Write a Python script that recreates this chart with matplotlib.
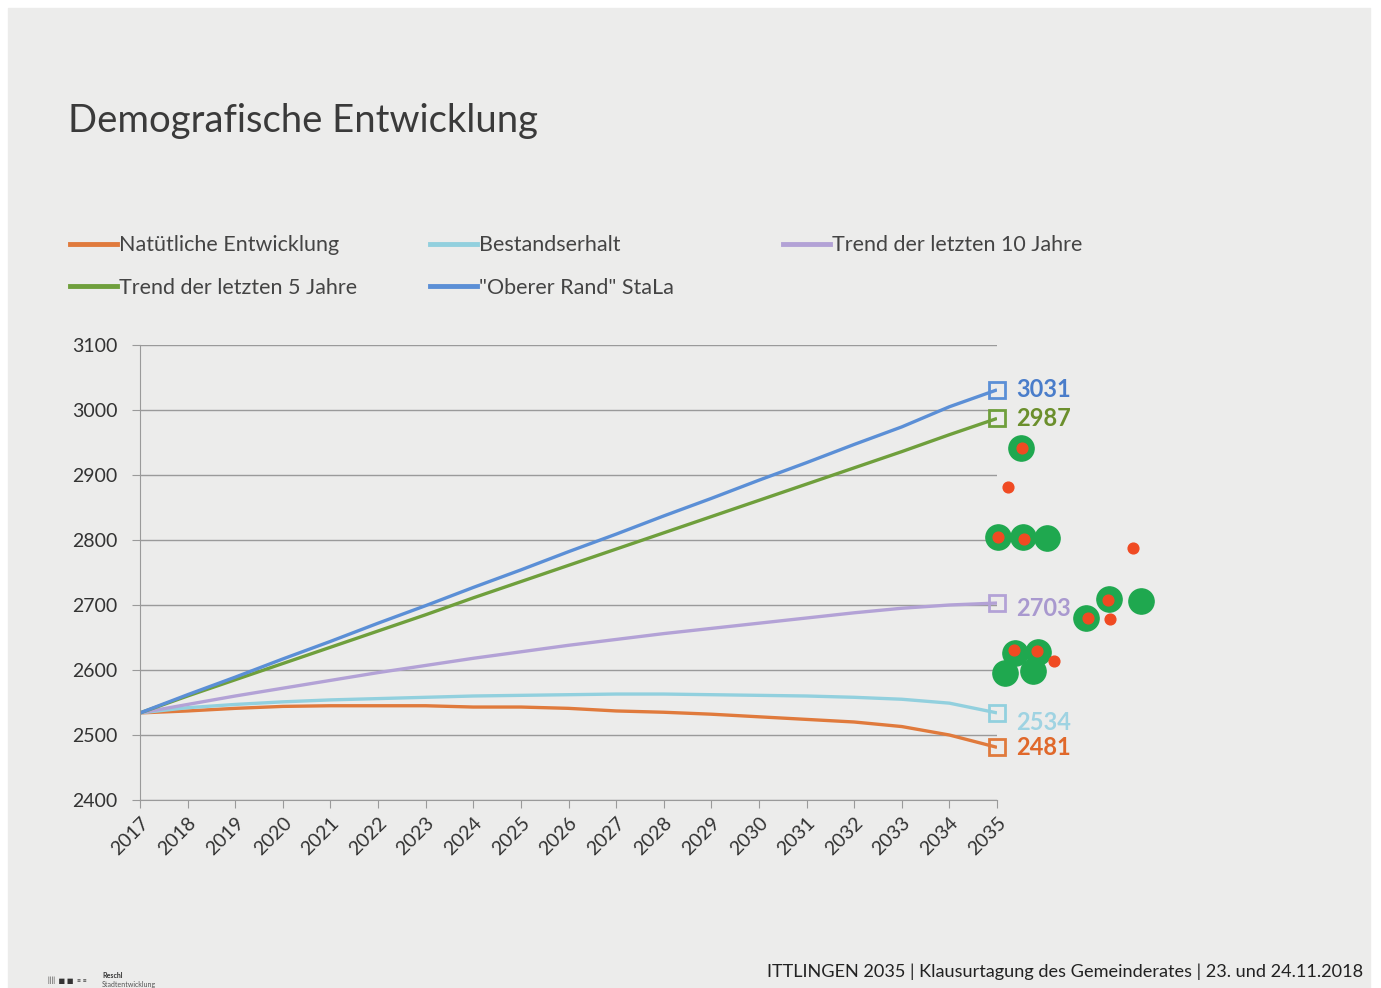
import matplotlib.pyplot as plt
from matplotlib.lines import Line2D
from matplotlib.patches import Rectangle

# data
years = list(range(2017, 2036))
natuerlich = [2534, 2537, 2541, 2544, 2545, 2545, 2545, 2543, 2543, 2541, 2537, 2535,
              2532, 2528, 2524, 2520, 2513, 2500, 2481]
bestand = [2534, 2542, 2547, 2551, 2554, 2556, 2558, 2560, 2561, 2562, 2563, 2563,
           2562, 2561, 2560, 2558, 2555, 2549, 2534]
trend10 = [2534, 2547, 2560, 2572, 2584, 2596, 2607, 2618, 2628, 2638, 2647, 2656,
           2664, 2672, 2680, 2688, 2695, 2700, 2703]
trend5 = [2534, 2560, 2585, 2610, 2635, 2660, 2685, 2711, 2736, 2761, 2786, 2811,
          2836, 2861, 2886, 2911, 2936, 2962, 2987]
oberer = [2534, 2562, 2589, 2617, 2644, 2672, 2699, 2727, 2754, 2782, 2809, 2837,
          2864, 2892, 2919, 2947, 2974, 3005, 3031]

series = [
    ("Natütliche Entwicklung", natuerlich, "#e07a3c", "#e0682a"),
    ("Bestandserhalt", bestand, "#92d0de", "#9fd3e2"),
    ("Trend der letzten 10 Jahre", trend10, "#b3a2d6", "#a999cf"),
    ("Trend der letzten 5 Jahre", trend5, "#6f9f3c", "#6b8f2c"),
    ('"Oberer Rand" StaLa', oberer, "#5b8fd6", "#4a7dca"),
]

# voting stickers next to the chart (x in years, y in inhabitants)
green_x = [2035.51, 2035.03, 2035.55, 2036.05, 2037.36, 2038.03, 2036.87,
           2035.38, 2035.87, 2035.17, 2035.76]
green_y = [2941, 2805, 2805, 2803, 2709, 2706, 2680, 2626, 2628, 2595, 2598]
red_x = [2035.53, 2035.24, 2035.03, 2035.57, 2037.86, 2037.34, 2036.92,
         2037.38, 2035.36, 2035.84, 2036.20]
red_y = [2941, 2881, 2805, 2801, 2788, 2708, 2680, 2678, 2631, 2629, 2614]

plt.rcParams['font.family'] = ['Lato', 'DejaVu Sans']

fig = plt.figure(figsize=(13.81, 9.88), dpi=100, facecolor="white")
fig.patches.append(Rectangle((8 / 1381, 0), 1362 / 1381, 980 / 988,
                             transform=fig.transFigure, color="#ececeb", zorder=-10))

ax = fig.add_axes([140 / 1381, 1 - 800 / 988, 857 / 1381, 455 / 988])
ax.set_facecolor("none")

handles = {}
for name, vals, col, lab_col in series:
    ln, = ax.plot(years, vals, color=col, lw=2.4, solid_capstyle="butt")
    ax.plot(years[-1], vals[-1], marker="s", ms=11, mfc="none", mec=col, mew=2,
            clip_on=False)
    handles[name] = ln

label_offset = {"Bestandserhalt": -7, "Trend der letzten 10 Jahre": -4}
for name, vals, col, lab_col in series:
    ax.annotate(str(vals[-1]), (years[-1], vals[-1]), xytext=(14, label_offset.get(name, 0)),
                textcoords="offset points", color=lab_col, fontsize=17, fontweight="bold",
                va="center", ha="left", annotation_clip=False)

ax.scatter(green_x, green_y, s=330, color="#1fa84f", clip_on=False, zorder=5)
ax.scatter(red_x, red_y, s=60, color="#f04a22", clip_on=False, zorder=6)

ax.set_xlim(2017, 2035)
ax.set_ylim(2400, 3100)
ax.set_xticks(years)
ax.set_xticklabels([str(y) for y in years], rotation=45, ha="right",
                   rotation_mode="anchor", fontsize=14, color="#333333")
ax.set_yticks(range(2400, 3101, 100))
ax.tick_params(axis="y", labelsize=14, labelcolor="#333333", length=6, color="#9a9a9a", pad=10)
ax.tick_params(axis="x", length=6, color="#9a9a9a", pad=4)
ax.grid(axis="y", color="#9a9a9a", lw=1)
for s in ["top", "right"]:
    ax.spines[s].set_visible(False)
for s in ["left", "bottom"]:
    ax.spines[s].set_color("#9a9a9a")

fig.text(68 / 1381, 1 - 121 / 988, "Demografische Entwicklung", fontsize=27.5,
         color="#3a3a3a", va="center", ha="left")

leg_kw = dict(frameon=False, fontsize=15.5, handlelength=2.15, handletextpad=0.1,
              labelspacing=1.05, loc="upper left", labelcolor="#444444")
for cols, xpos in [(["Natütliche Entwicklung", "Trend der letzten 5 Jahre"], 51),
                   (["Bestandserhalt", '"Oberer Rand" StaLa'], 411),
                   (["Trend der letzten 10 Jahre"], 764)]:
    hs = [Line2D([], [], color=handles[c].get_color(), lw=3.5) for c in cols]
    fig.legend(hs, cols, bbox_to_anchor=(xpos / 1381, 1 - 216 / 988), **leg_kw)

fig.text(767 / 1381, 1 - 972 / 988,
         "ITTLINGEN 2035 | Klausurtagung des Gemeinderates | 23. und 24.11.2018",
         fontsize=13.1, color="#222222", va="center", ha="left")
fig.text(48 / 1381, 1 - 980 / 988, "||||  \u25a0 \u25a0  \u2261 \u2261", fontsize=5,
         color="#333333", va="center", ha="left")
fig.text(102 / 1381, 1 - 975 / 988, "Reschl", fontsize=5, fontweight="bold",
         color="#333333", va="center", ha="left")
fig.text(102 / 1381, 1 - 984 / 988, "Stadtentwicklung", fontsize=5,
         color="#555555", va="center", ha="left")

fig.savefig("out.png", dpi=100, facecolor=fig.get_facecolor())
